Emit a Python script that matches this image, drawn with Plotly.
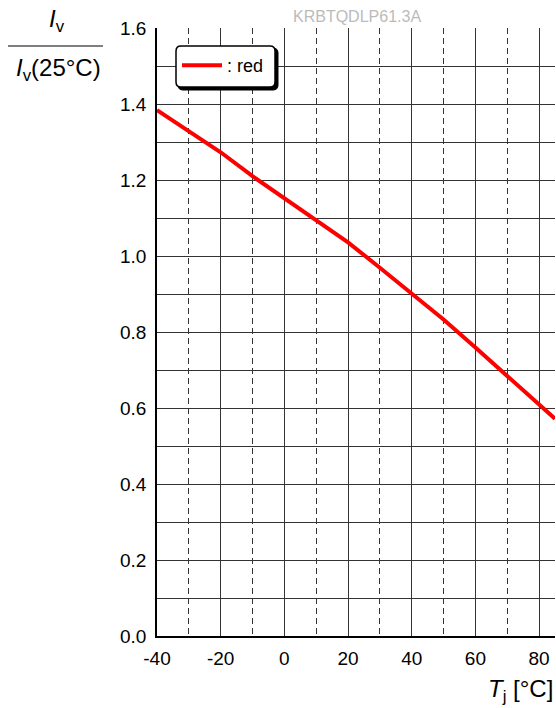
import plotly.graph_objects as go

temps = [-40, -30, -20, -10, 0, 10, 20, 30, 40, 50, 60, 70, 80, 85]
rel_iv = [1.384, 1.330, 1.273, 1.210, 1.153, 1.096, 1.036, 0.969, 0.901, 0.833, 0.759, 0.684, 0.609, 0.572]
x_ticks = [-40, -20, 0, 20, 40, 60, 80]
y_ticks = [0.0, 0.2, 0.4, 0.6, 0.8, 1.0, 1.2, 1.4, 1.6]

FONT = "Liberation Sans, Arial, sans-serif"
GRID = "#333333"

W, H = 556, 708
L, R, T, B = 157, 1, 28, 72
pw, ph = W - L - R, H - T - B


def px(x):
    return (x - L) / pw


def py(y):
    return 1 - (y - T) / ph


fig = go.Figure()
fig.add_trace(go.Scatter(x=temps, y=rel_iv, mode="lines", name=": red",
                         line=dict(color="#ff0000", width=4)))

fig.update_layout(
    width=W, height=H,
    margin=dict(l=L, r=R, t=T, b=B),
    paper_bgcolor="white", plot_bgcolor="white",
    font=dict(family=FONT, size=19, color="black"),
    showlegend=True,
    legend=dict(x=px(177), y=py(47), xanchor="left", yanchor="top",
                borderwidth=0, bgcolor="rgba(0,0,0,0)",
                font=dict(size=18), itemwidth=40),
    xaxis=dict(range=[-40, 85], tickvals=x_ticks, ticktext=[str(v) for v in x_ticks],
               showgrid=True, gridcolor=GRID, gridwidth=1,
               minor=dict(dtick=10, tick0=0, showgrid=True, gridcolor=GRID, gridwidth=1,
                          griddash="6px,4px"),
               showline=True, linecolor="black", linewidth=1.5,
               zeroline=False, ticks="", ticklabelstandoff=4, fixedrange=True),
    yaxis=dict(range=[0, 1.6], tickvals=y_ticks, ticktext=[f"{v:.1f}" for v in y_ticks],
               showgrid=True, gridcolor=GRID, gridwidth=1,
               minor=dict(dtick=0.1, tick0=0, showgrid=True, gridcolor=GRID, gridwidth=1),
               showline=True, linecolor="black", linewidth=1.5,
               zeroline=False, ticks="", ticklabelstandoff=5, fixedrange=True),
)

fig.add_annotation(text="KRBTQDLP61.3A", x=px(357), y=py(16), xref="paper", yref="paper",
                   xanchor="center", yanchor="middle", showarrow=False,
                   font=dict(size=16, color="#bbbbbb"))

for text, x, y in [("<i>I</i><sub>v</sub>", 57, 21),
                   ("<i>I</i><sub>v</sub>(25°C)", 58, 70),
                   ("<i>T</i><sub>j</sub> [°C]", 520, 690)]:
    fig.add_annotation(text=text, x=px(x), y=py(y), xref="paper", yref="paper",
                       xanchor="center", yanchor="middle", showarrow=False,
                       font=dict(size=24, family=FONT, color="black"))

fig.add_shape(type="line", xref="paper", yref="paper",
              x0=px(8), x1=px(103), y0=py(46), y1=py(46),
              line=dict(color="black", width=1.2))


def rounded_rect(x0, y0, x1, y1, r):
    X0, X1 = px(x0), px(x1)
    Y0, Y1 = py(y0), py(y1)
    rx, ry = r / pw, r / ph
    return (f"M{X0 + rx},{Y0} L{X1 - rx},{Y0} Q{X1},{Y0} {X1},{Y0 - ry} "
            f"L{X1},{Y1 + ry} Q{X1},{Y1} {X1 - rx},{Y1} L{X0 + rx},{Y1} "
            f"Q{X0},{Y1} {X0},{Y1 + ry} L{X0},{Y0 - ry} Q{X0},{Y0} {X0 + rx},{Y0} Z")


fig.add_shape(type="path", xref="paper", yref="paper", layer="above",
              path=rounded_rect(178, 48, 278, 90, 5),
              fillcolor="black", line=dict(color="black", width=1))
fig.add_shape(type="path", xref="paper", yref="paper", layer="above",
              path=rounded_rect(176, 46, 275, 87, 5),
              fillcolor="white", line=dict(color="black", width=1.5))

fig.write_html("out.html", config={"displayModeBar": False},
               post_script="document.body.style.margin='0';")
